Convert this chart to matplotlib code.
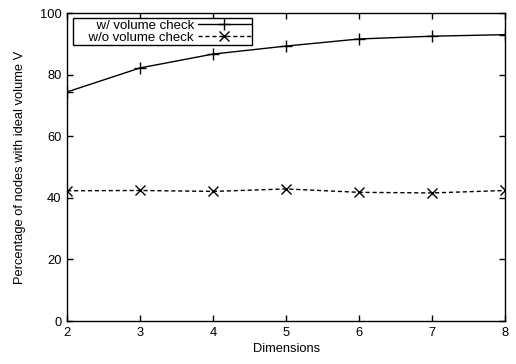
import matplotlib.pyplot as plt

plt.rcParams['font.family'] = ['Liberation Sans', 'DejaVu Sans']
plt.rcParams['font.size'] = 9.3

dims = [2, 3, 4, 5, 6, 7, 8]
with_check = [74.4, 82.2, 86.7, 89.3, 91.6, 92.5, 93.0]
without_check = [42.3, 42.4, 42.1, 42.9, 41.8, 41.6, 42.4]
labels = ['w/ volume check', 'w/o volume check']

fig = plt.figure(figsize=(5.16, 3.64), dpi=100)
ax = fig.add_axes([0.130, 0.118, 0.849, 0.846])

ax.plot(dims, with_check, color='black', linewidth=1, marker='+',
        markersize=8, markeredgewidth=1, label='    ' + labels[0])
ax.plot(dims, without_check, color='black', linewidth=1, linestyle=(0, (3, 2)),
        marker='x', markersize=6.5, markeredgewidth=1, label='    ' + labels[1])

ax.set_xlim(2, 8)
ax.set_ylim(0, 100)
ax.set_xticks(dims)
ax.set_yticks([0, 20, 40, 60, 80, 100])
ax.tick_params(direction='in', top=True, right=True, length=4, width=1, pad=4)
for s in ax.spines.values():
    s.set_linewidth(1)

ax.set_xlabel('Dimensions', labelpad=3)
ax.set_ylabel('Percentage of nodes with ideal volume V', labelpad=10)

# key box: text right-aligned, sample line on the right
leg = ax.legend(loc='upper left', markerfirst=False, handlelength=4.0,
                fontsize=9.5, fancybox=False, edgecolor='black', framealpha=1,
                borderpad=0.1, labelspacing=0.0, handletextpad=0.3,
                borderaxespad=0, bbox_to_anchor=(0.0137, 0.984))
leg.get_frame().set_linewidth(1)

fig.savefig('out.png', dpi=100)
